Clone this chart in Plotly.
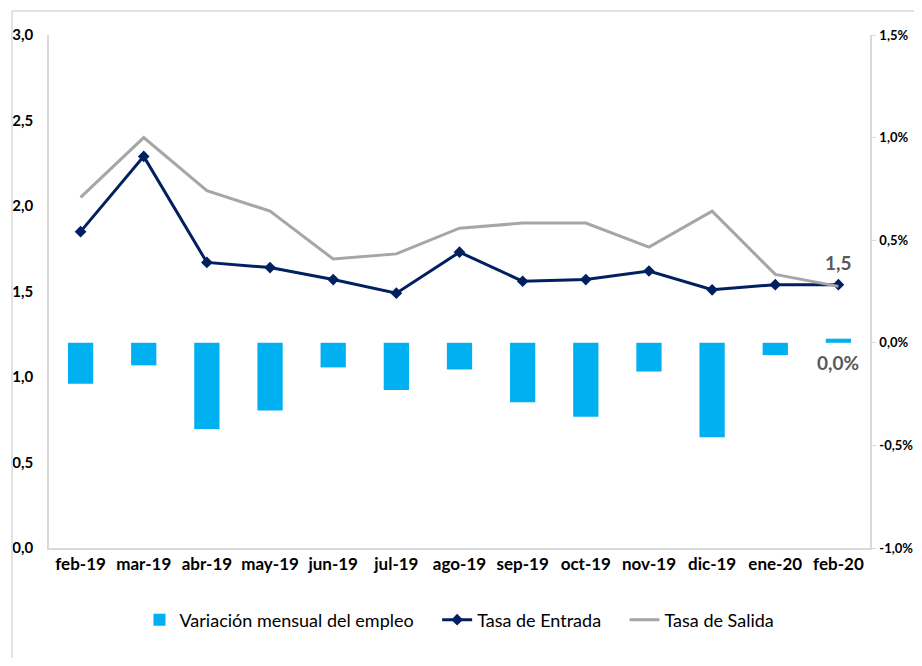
import plotly.graph_objects as go

categories = ["feb-19", "mar-19", "abr-19", "may-19", "jun-19", "jul-19", "ago-19",
              "sep-19", "oct-19", "nov-19", "dic-19", "ene-20", "feb-20"]
variacion_mensual = [-0.20, -0.11, -0.42, -0.33, -0.12, -0.23, -0.13,
                     -0.29, -0.36, -0.14, -0.46, -0.06, 0.02]
tasa_entrada = [1.85, 2.29, 1.67, 1.64, 1.57, 1.49, 1.73,
                1.56, 1.57, 1.62, 1.51, 1.54, 1.54]
tasa_salida = [2.05, 2.40, 2.09, 1.97, 1.69, 1.72, 1.87,
               1.90, 1.90, 1.76, 1.97, 1.60, 1.53]
left_ticks = [0, 0.5, 1.0, 1.5, 2.0, 2.5, 3.0]
right_ticks = [-1.0, -0.5, 0.0, 0.5, 1.0, 1.5]
right_ticktext = [f"{v:.1f}%".replace(".", ",") for v in right_ticks]

FONT = "Lato"
OFF = 8  # page body margin
W, H = 922 - 2 * OFF, 666 - 2 * OFF
L, R, T = 41, 44, 27
B = H - (548 - OFF)
pw, ph = W - L - R, H - T - B
PAD = "\u00a0" * 4  # extra spacing between legend entries

def px_x(x):
    return (x - OFF - L) / pw

def px_y(y):
    return 1 - (y - OFF - T) / ph

fig = go.Figure()
fig.add_trace(go.Bar(
    x=categories, y=variacion_mensual, name="Variación mensual del empleo" + PAD,
    marker=dict(color="#00B0F0", line=dict(width=0)), width=0.4, yaxis="y2",
))
fig.add_trace(go.Scatter(
    x=categories, y=tasa_entrada, name="Tasa de Entrada" + PAD, mode="lines+markers",
    line=dict(color="#002060", width=3), marker=dict(symbol="diamond", size=9, color="#002060"),
))
fig.add_trace(go.Scatter(
    x=categories, y=tasa_salida, name="Tasa de Salida", mode="lines",
    line=dict(color="#A6A6A6", width=3),
))

fig.add_annotation(x=categories[-1], y=tasa_entrada[-1], yref="y", text="<b>1,5</b>",
                   showarrow=False, yshift=22, font=dict(family=FONT, size=19, color="#595959"))
fig.add_annotation(x=categories[-1], y=0, yref="y2", text="<b>0,0%</b>",
                   showarrow=False, yshift=-20, font=dict(family=FONT, size=19, color="#595959"))

# chart border (left and top edges visible)
fig.add_shape(type="line", xref="paper", yref="paper",
              x0=px_x(12), x1=px_x(12), y0=px_y(11), y1=px_y(670),
              line=dict(color="#D9D9D9", width=1.5))
fig.add_shape(type="line", xref="paper", yref="paper",
              x0=px_x(12), x1=px_x(925), y0=px_y(11), y1=px_y(11),
              line=dict(color="#D9D9D9", width=1.5))

fig.update_layout(
    width=W, height=H,
    margin=dict(l=L, r=R, t=T, b=B, autoexpand=False),
    paper_bgcolor="white", plot_bgcolor="white",
    separators=",.",
    font=dict(family=FONT, color="#000000"),
    showlegend=True,
    legend=dict(orientation="h", x=0.5, xanchor="center", y=px_y(620), yanchor="middle",
                font=dict(family=FONT, size=18, color="#000000"), itemwidth=30,
                traceorder="normal"),
    xaxis=dict(showgrid=False, showline=True, linecolor="#D9D9D9", linewidth=1.5,
               automargin=False,
               ticks="", tickfont=dict(family=FONT, size=17, color="#000000", weight="bold"),
               range=[-0.5, len(categories) - 0.5]),
    yaxis=dict(range=[0, 3], tickvals=left_ticks, tickformat=".1f", showgrid=False,
               automargin=False,
               showline=True, linecolor="#D9D9D9", linewidth=1.5, zeroline=False,
               ticks="outside", ticklen=0, ticklabelstandoff=11,
               tickfont=dict(family=FONT, size=15, color="#000000", weight="bold")),
    yaxis2=dict(range=[-1, 1.5], tickvals=right_ticks, ticktext=right_ticktext,
                automargin=False,
                overlaying="y", side="right", showgrid=False, zeroline=False,
                showline=True, linecolor="#D9D9D9", linewidth=1.5,
                ticks="outside", ticklen=4, tickcolor="#D9D9D9", ticklabelstandoff=1,
                tickfont=dict(family=FONT, size=13, color="#000000", weight="bold")),
)

fig.write_html("out.html")
